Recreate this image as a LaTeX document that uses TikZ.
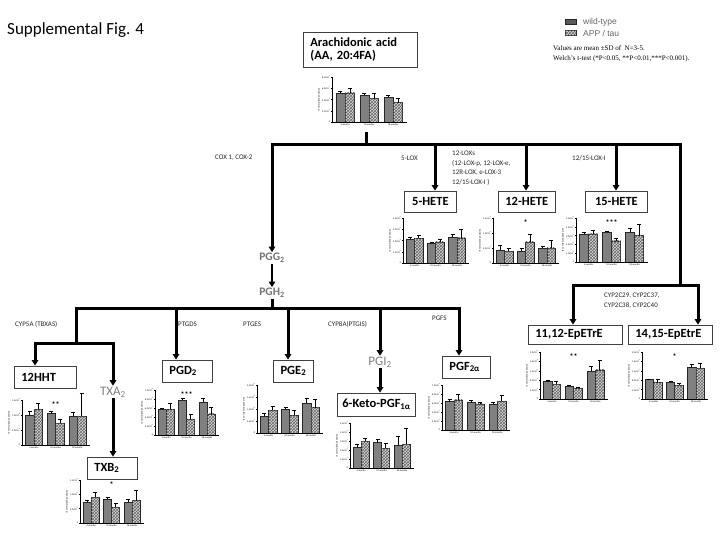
\documentclass[tikz,border=0pt]{standalone}
\usepackage{fontspec}
\setmainfont{Carlito}
\newfontfamily\arialf{Liberation Sans}
\newfontfamily\timesf{Liberation Serif}
\usetikzlibrary{arrows.meta,patterns}
\newcommand{\mysci}[2]{#1×10\textsuperscript{#2}}
\tikzset{
  >={Triangle[width=6.5pt,length=5.5pt]},
  trunk/.style={line width=3pt, line join=miter},
  thinarr/.style={line width=1.6pt, ->},
  box/.style={draw=black!75, line width=0.8pt, inner xsep=7pt, inner ysep=0pt, minimum height=21pt, align=left, anchor=west, font=\fontsize{12.5}{13}\selectfont\bfseries},
  enz/.style={anchor=west, inner sep=0pt, align=left, text=black!85, font=\fontsize{7}{9.5}\selectfont},
  inter/.style={inner sep=1pt, text=black!55, font=\fontsize{11.5}{12}\selectfont\bfseries},
  interl/.style={inner sep=1pt, text=black!50, font=\fontsize{13}{14}\selectfont},
  wtbar/.style={fill=black!50, draw=black!85, line width=0.4pt},
  tgbar/.style={fill=black!15, draw=black!85, line width=0.4pt, postaction={pattern=crosshatch, pattern color=black!60}},
  ebar/.style={line width=0.5pt},
  chaxis/.style={line width=0.45pt},
  ticklab/.style={anchor=east, inner sep=0pt, font=\fontsize{2.4}{2.6}\selectfont},
  xlab/.style={anchor=north, inner sep=0pt, font=\fontsize{2.4}{2.6}\selectfont},
  ylab/.style={rotate=90, inner sep=0pt, font=\fontsize{2.4}{2.6}\selectfont},
  starlab/.style={inner sep=0pt, font=\fontsize{8}{8}\selectfont\bfseries}
}
% #1 x, #2 y (axes origin), #3 width, #4 height, #5 intervals, #6 tick labels, #7 bars, #8 stars
\newcommand{\bchart}[8]{%
 \begin{scope}[shift={(#1,#2)}]
  \foreach \vv/\ee [count=\nn from 0] in {#7}{%
   \pgfmathsetmacro\bxa{#3*(0.05+0.32*floor(\nn/2)+0.125*mod(\nn,2))}%
   \pgfmathsetmacro\bxb{\bxa+#3*0.125}%
   \pgfmathsetmacro\bxm{\bxa+#3*0.0625}%
   \pgfmathsetmacro\byt{-#4*\vv}%
   \pgfmathsetmacro\bye{-#4*(\vv+\ee)}%
   \ifodd\nn \path[tgbar] (\bxa,0) rectangle (\bxb,\byt);\else\path[wtbar] (\bxa,0) rectangle (\bxb,\byt);\fi
   \draw[ebar] (\bxm,\byt) -- (\bxm,\bye) (\bxm-2,\bye) -- (\bxm+2,\bye);
  }
  \draw[chaxis] (0,-#4) -- (0,0) -- (#3,0);
  \foreach \lab [count=\cc from 0] in {#6}{%
    \pgfmathsetmacro\byy{-#4*\cc/#5}%
    \draw[chaxis] (-1.2,\byy) -- (0,\byy);
    \node[ticklab] at (-1.6,\byy) {\lab};
  }
  \node[ylab] at (-13,-#4/2) {IS normalized peak area};
  \foreach \mm [count=\cc from 0] in {4 months,10 months,18 months}{%
    \node[xlab] at ({#3*(0.05+0.32*\cc+0.125)},1.8) {\mm};
  }
  \node[starlab] at ({#3*(0.05+0.32+0.125)},{-#4*0.9}) {#8};
 \end{scope}}

\begin{document}
\begin{tikzpicture}[x=1pt,y=-1pt]
\useasboundingbox (0,0) rectangle (720,540);
\fill[white] (0,0) rectangle (720,540);

% title and legend
\node[anchor=west, inner sep=0pt, font=\fontsize{17}{20}\selectfont] (title) at (7,30) {Supplemental Fig. 4};
\path[fill=black!65, draw=black!85, line width=0.4pt] (565,19.5) rectangle (576,24.5);
\path[tgbar] (565,30.5) rectangle (576,35.5);
\node[anchor=west, inner sep=0pt, text=black!60, font=\arialf\fontsize{8.5}{9}\selectfont] (lwt) at (583,22) {wild-type};
\node[anchor=west, inner sep=0pt, text=black!60, font=\arialf\fontsize{8.5}{9}\selectfont] (ltg) at (583,33) {APP / tau};
\node[anchor=west, inner sep=0pt, font=\timesf\fontsize{7}{8}\selectfont] (val1) at (553,48) {Values are mean ±SD of \ N=3-5.};
\node[anchor=west, inner sep=0pt, font=\timesf\fontsize{7}{8}\selectfont] (val2) at (553,59) {Welch’s t-test (*P<0.05, **P<0.01,***P<0.001).};

% boxes
\node[box, minimum height=35pt, text width=100pt, font=\fontsize{12.5}{12.5}\selectfont\bfseries] (aa) at (303,49.5) {Arachidonic acid\\(AA, 20:4FA)};
\node[box, align=center, minimum width=52pt] (hete5) at (404,201.5) {5-HETE};
\node[box, align=center, minimum width=55pt] (hete12) at (498,201.5) {12-HETE};
\node[box, align=center, minimum width=62pt] (hete15) at (585,201.5) {15-HETE};
\node[box, minimum height=19pt, text width=80pt] (ep1112) at (528,334.5) {\mbox{11,12-EpETrE}};
\node[box, minimum height=19pt, text width=70pt] (ep1415) at (628,334.5) {\mbox{14,15-EpEtrE}};
\node[box, minimum height=22pt, text width=48pt] (hht) at (14,377) {12HHT};
\node[box, minimum height=22pt, text width=36pt] (pgd) at (162,371) {PGD\textsubscript{2}};
\node[box, minimum height=22pt, align=center, minimum width=40pt, inner xsep=4pt] (pge) at (273,371) {PGE\textsubscript{2}};
\node[box, minimum height=23pt, inner xsep=5pt, text width=68pt] (keto) at (337,404.5) {\mbox{6-Keto-PGF\textsubscript{1α}}};
\node[box, minimum height=22pt, text width=34pt] (pgf) at (442,367) {\mbox{PGF\textsubscript{2α}}};
\node[box, minimum height=22pt, text width=36pt] (txb) at (87,468) {TXB\textsubscript{2}};

% intermediates
\node[inter] (pgg) at (272,258) {PGG\textsubscript{2}};
\node[inter] (pgh) at (272,293) {PGH\textsubscript{2}};
\node[interl] (txa) at (113,392) {TXA\textsubscript{2}};
\node[interl] (pgi) at (380,362) {PGI\textsubscript{2}};

% enzyme labels
\node[enz] (lcox) at (215,158) {COX 1, COX-2};
\node[enz] (l5lox) at (401,158) {5-LOX};
\node[enz, anchor=north west] (l12lox) at (452,151) {12-LOXs\\(12-LOX-p, 12-LOX-e,\\12R-LOX, e-LOX-3\\12/15-LOX-I )};
\node[enz] (l15lox) at (572,158) {12/15-LOX-I};
\node[enz] (lcyp2c) at (604,300.5) {CYP2C29, CYP2C37,\\CYP2C38, CYP2C40};
\node[enz] (lcyp5a) at (15,324) {CYP5A (TBXAS)};
\node[enz] (lptgds) at (178,324) {PTGDS};
\node[enz] (lptges) at (243,324) {PTGES};
\node[enz] (lcyp8a) at (328,324) {CYP8A(PTGIS)};
\node[enz] (lpgfs) at (432,318) {PGFS};

% junction coordinates
\coordinate (aab) at (366,132);
\coordinate (jAA) at (366,145);
\coordinate (cL) at (272,145);
\coordinate (cR) at (680,145);
\coordinate (j5) at (435,145);
\coordinate (j12) at (526,145);
\coordinate (j15) at (616,145);
\coordinate (jEp) at (680,285);
\coordinate (epL) at (573,285);
\coordinate (epR) at (698,285);
\coordinate (jH) at (272,308);
\coordinate (lL) at (76,308);
\coordinate (lR) at (459,308);
\coordinate (jD) at (176,308);
\coordinate (jE) at (288,308);
\coordinate (jI) at (380,308);
\coordinate (jTX) at (76,343);
\coordinate (hhL) at (35,343);
\coordinate (hhR) at (113,343);

% upper tree
\draw[trunk] (aab) -- (jAA);
\draw[trunk,<-] (pgg.north) -- (cL) -- (cR) -- (jEp);
\draw[trunk,->] (j5) -- (j5 |- hete5.north);
\draw[trunk,->] (j12) -- (j12 |- hete12.north);
\draw[trunk,->] (j15) -- (j15 |- hete15.north);
\draw[trunk,<->] (epL |- ep1112.north) -- (epL) -- (epR) -- (epR |- ep1415.north);
\draw[thinarr] (pgg.south) -- (pgh.north);

% lower tree
\draw[trunk] (pgh.south) -- (jH);
\draw[trunk,->] (jTX) -- (lL) -- (lR) -- (lR |- pgf.north);
\draw[trunk,<->] (hhL |- hht.north) -- (hhL) -- (hhR) -- (txa.north);
\draw[trunk,->] (jD) -- (jD |- pgd.north);
\draw[trunk,->] (jE) -- (jE |- pge.north);
\draw[trunk,->] (jI) -- (pgi.north);
\draw[trunk,->] (txa.south) -- (txa.south |- txb.north);
\draw[trunk,->] (pgi.south) -- (pgi.south |- keto.north);

% charts
\bchart{332}{122}{75}{45}{4}{0,\mysci{2.0}{7},\mysci{4.0}{7},\mysci{6.0}{7},\mysci{8.0}{7}}{0.65/0.04,0.65/0.09,0.59/0.04,0.52/0.11,0.56/0.03,0.43/0.09}{}
\bchart{403}{263}{66}{45}{4}{0,\mysci{1.0}{6},\mysci{2.0}{6},\mysci{3.0}{6},\mysci{4.0}{6}}{0.53/0.05,0.55/0.07,0.44/0.02,0.47/0.05,0.57/0.06,0.56/0.2}{}
\bchart{493}{263}{66}{45}{3}{0,\mysci{5.0}{5},\mysci{1.0}{6},\mysci{1.5}{6}}{0.29/0.1,0.26/0.07,0.27/0.05,0.47/0.18,0.34/0.04,0.34/0.16}{*}
\bchart{576}{262}{72}{44}{5}{0,\mysci{1.0}{6},\mysci{2.0}{6},\mysci{3.0}{6},\mysci{4.0}{6},\mysci{5.0}{6}}{0.64/0.03,0.64/0.09,0.68/0.02,0.48/0.07,0.68/0.09,0.6/0.25}{***}
\bchart{540}{399}{68}{47}{5}{0,\mysci{4.0}{5},\mysci{8.0}{5},\mysci{1.2}{6},\mysci{1.6}{6},\mysci{2.0}{6}}{0.37/0.03,0.31/0.06,0.28/0.01,0.23/0.02,0.59/0.1,0.62/0.2}{**}
\bchart{642}{399}{66}{47}{5}{0,\mysci{4.0}{5},\mysci{8.0}{5},\mysci{1.2}{6},\mysci{1.6}{6},\mysci{2.0}{6}}{0.42/0.01,0.35/0.06,0.36/0.02,0.29/0.04,0.67/0.08,0.65/0.12}{*}
\bchart{22}{445}{68}{45}{3}{0,\mysci{5.0}{5},\mysci{1.0}{6},\mysci{1.5}{6}}{0.67/0.07,0.8/0.13,0.7/0.05,0.48/0.09,0.65/0.08,0.64/0.5}{**}
\bchart{155}{435}{64}{45}{5}{0,\mysci{2.0}{5},\mysci{4.0}{5},\mysci{6.0}{5},\mysci{8.0}{5},\mysci{1.0}{6}}{0.57/0.02,0.57/0.13,0.78/0.04,0.35/0.11,0.74/0.07,0.47/0.15}{***}
\bchart{80}{523}{64}{43}{3}{0,\mysci{5.0}{5},\mysci{1.0}{6},\mysci{1.5}{6}}{0.48/0.04,0.6/0.11,0.55/0.05,0.37/0.08,0.48/0.07,0.52/0.25}{*}
\bchart{257}{433}{66}{48}{4}{0,\mysci{5.0}{5},\mysci{1.0}{6},\mysci{1.5}{6},\mysci{2.0}{6}}{0.35/0.06,0.47/0.09,0.49/0.05,0.37/0.11,0.63/0.09,0.53/0.18}{}
\bchart{350}{468}{64}{45}{5}{0,\mysci{1.0}{5},\mysci{2.0}{5},\mysci{3.0}{5},\mysci{4.0}{5},\mysci{5.0}{5}}{0.46/0.07,0.6/0.07,0.58/0.06,0.44/0.11,0.51/0.2,0.53/0.35}{}
\bchart{442}{430}{68}{45}{5}{0,\mysci{2.0}{5},\mysci{4.0}{5},\mysci{6.0}{5},\mysci{8.0}{5},\mysci{1.0}{6}}{0.63/0.05,0.67/0.13,0.61/0.05,0.58/0.04,0.57/0.05,0.64/0.13}{}
\end{tikzpicture}
\end{document}
